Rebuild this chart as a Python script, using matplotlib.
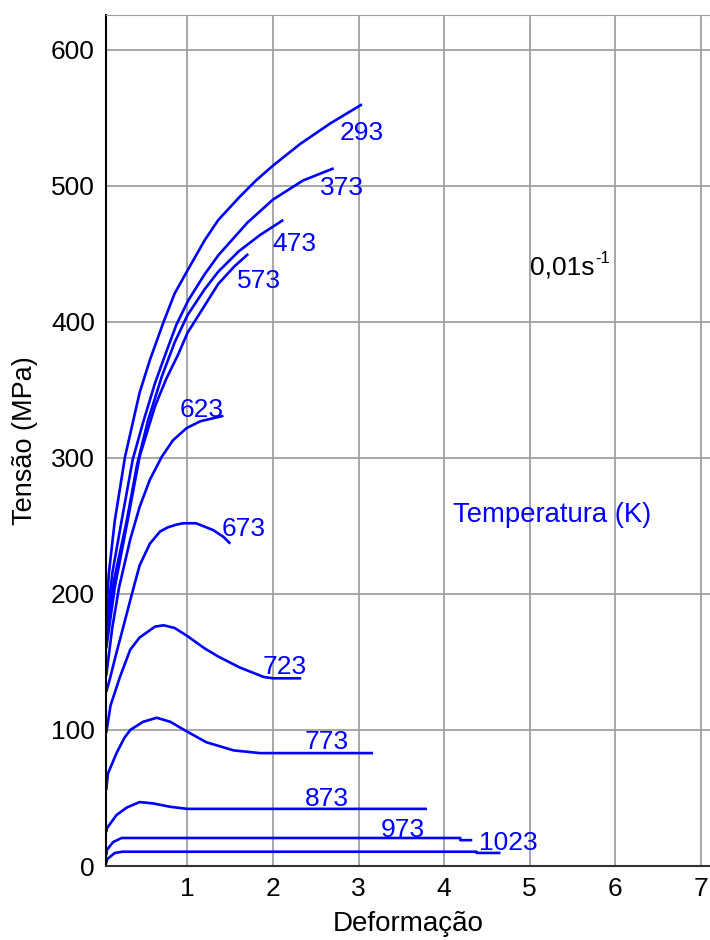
import matplotlib
matplotlib.use('Agg')
import matplotlib.pyplot as plt

plt.rcParams['font.family'] = ['Liberation Sans', 'DejaVu Sans']

# curvas tensão x deformação para cada temperatura (K), taxa 0,01 s^-1
temps = ['293', '373', '473', '573', '623', '673', '723', '773', '873', '973', '1023']

eps_293 = [0.05, 0.08, 0.15, 0.27, 0.44, 0.56, 0.72, 0.85, 1.01, 1.2, 1.36, 1.61, 1.8, 2.0, 2.32, 2.67, 3.04]
sig_293 = [185, 215, 254, 301, 348, 372, 400, 421, 439, 460, 475, 492, 504, 515, 531, 546, 560]

eps_373 = [0.05, 0.12, 0.23, 0.36, 0.48, 0.62, 0.74, 0.87, 1.01, 1.2, 1.36, 1.7, 2.0, 2.35, 2.71]
sig_373 = [175, 215, 254, 299, 326, 355, 376, 398, 416, 435, 449, 473, 490, 504, 513]

eps_473 = [0.05, 0.14, 0.29, 0.41, 0.54, 0.70, 0.85, 1.0, 1.2, 1.36, 1.6, 1.85, 2.12]
sig_473 = [168, 210, 254, 295, 328, 360, 385, 405, 424, 437, 452, 464, 475]

eps_573 = [0.05, 0.15, 0.30, 0.44, 0.62, 0.75, 0.89, 1.0, 1.2, 1.36, 1.55, 1.71]
sig_573 = [160, 205, 254, 301, 338, 358, 376, 392, 412, 428, 441, 450]

eps_623 = [0.05, 0.12, 0.20, 0.33, 0.44, 0.56, 0.70, 0.83, 0.99, 1.15, 1.42]
sig_623 = [140, 175, 205, 240, 264, 284, 301, 313, 322, 327, 331]

eps_673 = [0.05, 0.09, 0.17, 0.25, 0.35, 0.44, 0.56, 0.68, 0.77, 0.87, 0.95, 1.10, 1.18, 1.30, 1.42, 1.50]
sig_673 = [128, 137, 157, 176, 200, 221, 237, 246, 249, 251, 252, 252, 250, 247, 242, 237]

eps_723 = [0.05, 0.10, 0.21, 0.33, 0.44, 0.53, 0.62, 0.72, 0.85, 1.0, 1.2, 1.36, 1.61, 1.89, 2.0, 2.33]
sig_723 = [98, 118, 139, 159, 168, 172, 176, 177, 175, 169, 160, 154, 146, 139, 138, 138]

eps_773 = [0.05, 0.07, 0.17, 0.26, 0.33, 0.48, 0.64, 0.80, 0.99, 1.22, 1.54, 1.85, 2.0, 3.17]
sig_773 = [56, 68, 83, 94, 100, 106, 109, 106, 99, 91, 85, 83, 83, 83]

eps_873 = [0.05, 0.06, 0.17, 0.29, 0.44, 0.60, 0.80, 1.0, 3.8]
sig_873 = [25, 28, 37.5, 43, 47, 46, 43.5, 42, 42]

eps_973 = [0.05, 0.06, 0.13, 0.23, 4.19, 4.19, 4.33]
sig_973 = [8, 12, 17.6, 20.6, 20.6, 19, 19]

eps_1023 = [0.05, 0.06, 0.15, 0.24, 4.38, 4.38, 4.66]
sig_1023 = [2, 5, 9.6, 10.5, 10.5, 9.6, 9.6]

curvas = [(eps_293, sig_293), (eps_373, sig_373), (eps_473, sig_473),
          (eps_573, sig_573), (eps_623, sig_623), (eps_673, sig_673),
          (eps_723, sig_723), (eps_773, sig_773), (eps_873, sig_873),
          (eps_973, sig_973), (eps_1023, sig_1023)]

# posição dos rótulos (canto esquerdo, linha de base)
pos_rotulos = [(2.78, 534), (2.55, 493), (1.99, 452), (1.58, 425), (0.91, 330),
               (1.40, 243), (1.88, 141), (2.37, 86), (2.37, 44), (3.26, 21.3),
               (4.41, 11.8)]

azul = '#0000ff'

fig = plt.figure(figsize=(7.1, 9.4), dpi=100)
ax = fig.add_axes([106 / 710, 74 / 940, 1 - 106 / 710, (866 - 15) / 940])

for (e, s), t, (lx, ly) in zip(curvas, temps, pos_rotulos):
    ax.plot(e, s, color=azul, lw=1.9, solid_joinstyle='round', solid_capstyle='butt')
    ax.text(lx, ly, t, color=azul, fontsize=19, ha='left', va='baseline')

ax.text(5.0, 435, '0,01s', color='black', fontsize=19, ha='left', va='baseline')
ax.text(5.77, 443, '-1', color='black', fontsize=12, ha='left', va='baseline')
ax.text(4.1, 253, 'Temperatura (K)', color=azul, fontsize=19.8,
        ha='left', va='baseline')

ax.set_xlim(0.047, 7.11)
ax.set_ylim(0, 625.7)
ax.set_xticks(range(1, 8))
ax.set_yticks(range(0, 700, 100))
ax.grid(True, color='#a0a0a0', lw=1.3)
ax.set_axisbelow(True)
ax.tick_params(length=0, labelsize=19)
ax.tick_params(axis='x', pad=8)
ax.tick_params(axis='y', pad=8)

ax.spines['right'].set_visible(False)
ax.spines['top'].set_color('#a0a0a0')
ax.spines['left'].set_color('black')
ax.spines['bottom'].set_color('#333333')
ax.spines['left'].set_linewidth(1.5)
ax.spines['bottom'].set_linewidth(1.5)

ax.set_xlabel('Deformação', fontsize=20, labelpad=7)
ax.set_ylabel('Tensão (MPa)', fontsize=19.5, labelpad=9)

fig.savefig('out.png', dpi=100)
